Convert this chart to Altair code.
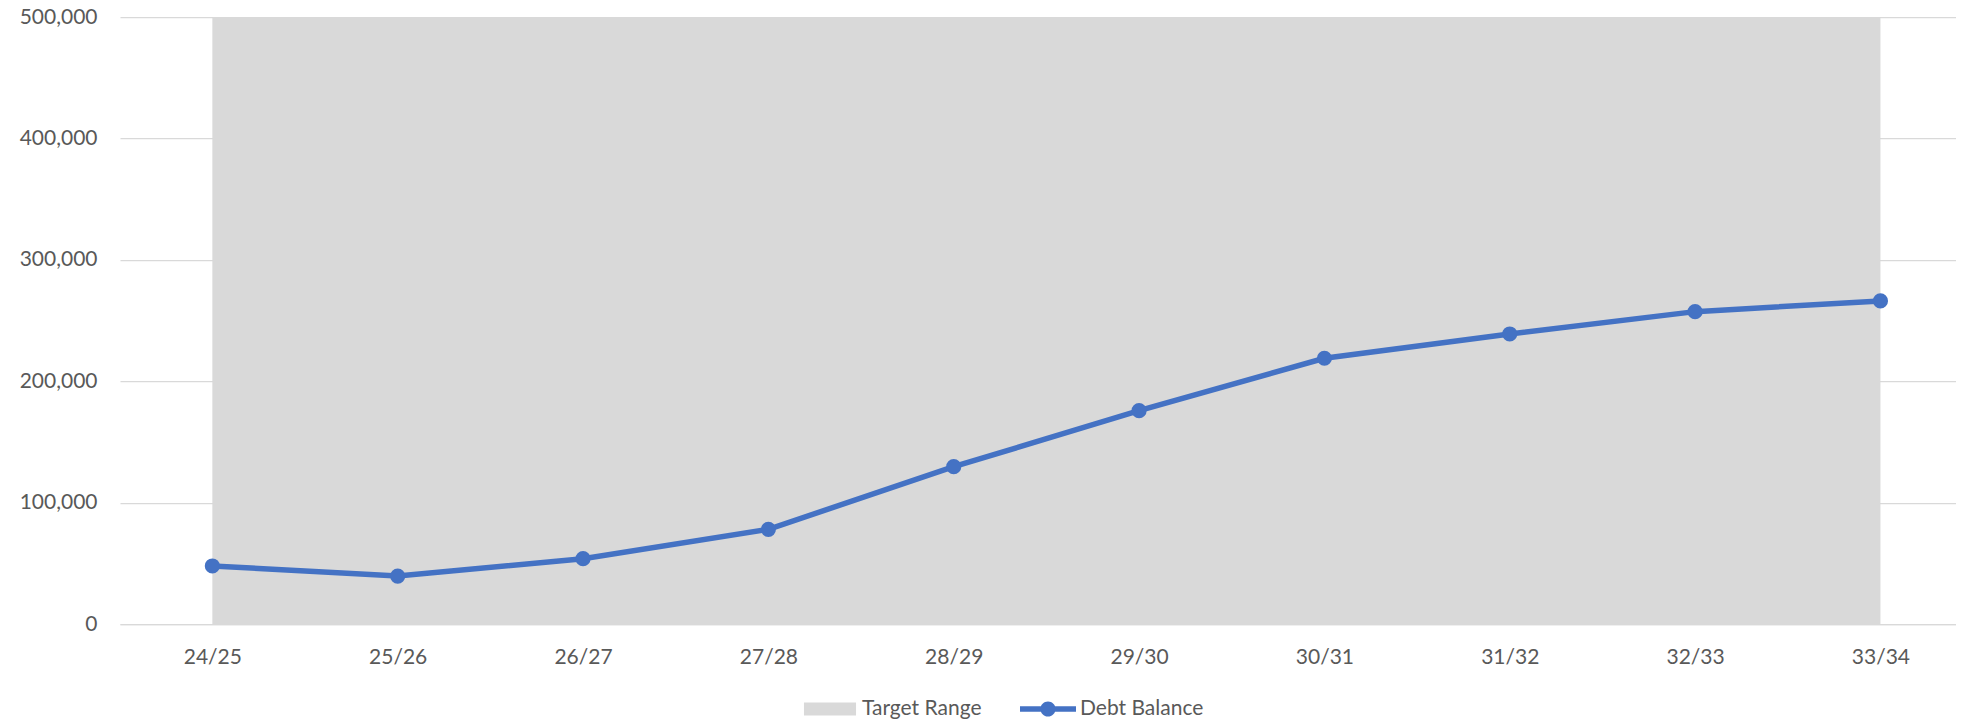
import altair as alt
import pandas as pd

# ---- data ----
periods = ["24/25", "25/26", "26/27", "27/28", "28/29",
           "29/30", "30/31", "31/32", "32/33", "33/34"]
debt_balance = [47800, 39500, 53800, 78000, 129600,
                175700, 218900, 238900, 257300, 266100]
target_range = [500000, 500000, 500000, 500000, 500000,
                500000, 500000, 500000, 500000, 500000]
y_ticks = [0, 100000, 200000, 300000, 400000, 500000]
series_names = ["Target Range", "Debt Balance"]
series_colors = ["#D9D9D9", "#4472C4"]

df = pd.DataFrame({"period": periods, "debt": debt_balance, "target": target_range})

FONT = "Lato"
LABEL_COLOR = "#595959"
GRID_COLOR = "#D9D9D9"

x_enc = alt.X(
    "period:N",
    sort=periods,
    scale=alt.Scale(type="point", padding=0.453, align=0.55),
    axis=alt.Axis(title=None, labelAngle=0, ticks=False, grid=False,
                  domainColor=GRID_COLOR, domainWidth=1.25,
                  labelFont=FONT, labelFontSize=21, labelColor=LABEL_COLOR,
                  labelPadding=22),
)
y_scale = alt.Scale(domain=[0, 500000], nice=False, zero=True)
y_axis = alt.Axis(title=None, values=y_ticks, format=",.0f", ticks=False, domain=False,
                  grid=True, gridColor=GRID_COLOR, gridWidth=1.25,
                  labelFont=FONT, labelFontSize=21, labelColor=LABEL_COLOR,
                  labelPadding=23)

base = alt.Chart(df)

area = base.mark_area(color=series_colors[0], opacity=1).encode(
    x=x_enc,
    y=alt.Y("target:Q", scale=y_scale, axis=y_axis),
)

line = base.mark_line(color=series_colors[1], strokeWidth=5.5).encode(
    x=x_enc,
    y=alt.Y("debt:Q", scale=y_scale, axis=y_axis),
)

points = base.mark_circle(color=series_colors[1], size=230, opacity=1).encode(
    x=x_enc,
    y=alt.Y("debt:Q", scale=y_scale, axis=y_axis),
)

rect_path = "M-0.93,-0.23H0.93V0.23H-0.93Z"
line_marker_path = ("M-1,-0.098H1V0.098H-1Z "
                    "M0.27,0A0.27,0.27 0 1,1 -0.27,0A0.27,0.27 0 1,1 0.27,0Z")

legend_def = alt.Legend(
    title=None, orient="none", legendX=682, legendY=664, direction="horizontal",
    symbolSize=3136, symbolStrokeWidth=0, labelFont=FONT, labelFontSize=21,
    labelColor=LABEL_COLOR, labelOffset=4, columnPadding=38, padding=0,
)

legend_layer = (
    base.transform_calculate(series="'Debt Balance'")
    .transform_filter("false")
    .mark_point(filled=True, opacity=1, size=3136)
    .encode(
        x=x_enc,
        y=alt.Y("debt:Q", scale=y_scale, axis=y_axis),
        color=alt.Color("series:N",
                        scale=alt.Scale(domain=series_names, range=series_colors),
                        legend=legend_def),
        shape=alt.Shape("series:N",
                        scale=alt.Scale(domain=series_names,
                                        range=[rect_path, line_marker_path]),
                        legend=legend_def),
    )
)

chart = (
    alt.layer(area, line, points, legend_layer)
    .properties(
        width=1836, height=607,
        autosize=alt.AutoSizeParams(type="none"),
        padding={"left": 112, "top": 9, "right": 0, "bottom": 96},
    )
    .configure_view(strokeWidth=0)
)

chart.save("out.html", embed_options={"renderer": "svg", "actions": False})
